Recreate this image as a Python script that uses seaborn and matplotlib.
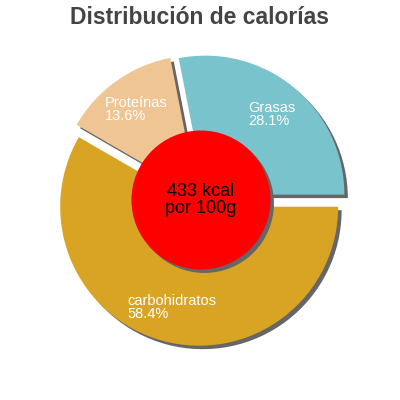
import numpy as np
import matplotlib
matplotlib.use("Agg")
import matplotlib.pyplot as plt
import seaborn as sns

# ========== DATA ==========
labels = ["Grasas", "Proteínas", "carbohidratos"]
shares = [28.1, 13.6, 58.4]
colors = ["#79c3cc", "#eec593", "#d9a424"]
title = "Distribución de calorías"
center_text = "433 kcal\npor 100g"

sns.set_theme(style="white")
plt.rcParams["font.family"] = ["Liberation Sans", "DejaVu Sans"]

fig = plt.figure(figsize=(4, 4), dpi=100)
ax = fig.add_axes([0, 0, 1, 1])

explode = [0.05] * len(shares)
shadow_off = (0.025, -0.025)

# shadows first
ax.pie(shares, explode=explode, colors=["#666666"] * len(shares),
       startangle=0, counterclock=True, center=shadow_off,
       wedgeprops={"linewidth": 0})
wedges, _ = ax.pie(shares, explode=explode, colors=colors,
                   startangle=0, counterclock=True,
                   wedgeprops={"linewidth": 0})

# labels inside slices
for w, lab, val in zip(wedges, labels, shares):
    ang = np.deg2rad((w.theta1 + w.theta2) / 2)
    cx, cy = w.center
    ax.text(cx + 0.75 * np.cos(ang), cy + 0.75 * np.sin(ang),
            f"{lab}\n{val}%", color="white", fontsize=10.5,
            ha="center", va="center", multialignment="left",
            linespacing=0.9)

# center disc
ax.add_patch(plt.Circle(shadow_off, 0.5, color="#666666", lw=0, zorder=3))
ax.add_patch(plt.Circle((0, 0), 0.5, color="#ff0000", lw=0, zorder=4))
ax.text(0, 0, center_text, ha="center", va="center", fontsize=13,
        color="black", zorder=5, linespacing=1.0)

ax.set_aspect("equal")
ax.set_xlim(-1.446, 1.432)
ax.set_ylim(-1.439, 1.439)
ax.axis("off")

fig.text(0.5, 1 - 18 / 400, title, ha="center", va="center",
         fontsize=16.5, fontweight="bold", color="#444444")

fig.savefig("out.png", dpi=100)
